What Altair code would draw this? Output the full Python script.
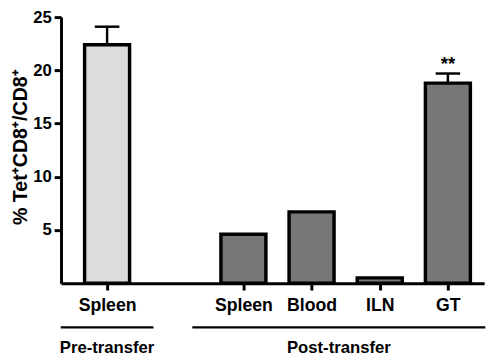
import altair as alt
import pandas as pd

# ---- data ----
categories = ["Spleen", "Spleen", "Blood", "ILN", "GT"]
slots = [0, 2, 3, 4, 5]
phase = ["Pre", "Post", "Post", "Post", "Post"]
values = [22.4, 4.6, 6.7, 0.5, 18.8]
err_upper = [24.1, None, None, None, 19.7]
significance = ["", "", "", "", "**"]

group_names = ["Pre-transfer", "Post-transfer"]
group_start = [-0.68, 1.25]
group_end = [0.68, 5.55]
group_center = [0.0, 3.4]

y_ticks = [5, 10, 15, 20, 25]

# ---- layout / style ----
W, H = 431, 271
HALF = 0.33
CAP = 0.18
FONT = "Liberation Sans"

df = pd.DataFrame(dict(cat=categories, slot=slots, phase=phase, value=values,
                       upper=err_upper, sig=significance))
gdf = pd.DataFrame(dict(name=group_names, start=group_start, end=group_end,
                        center=group_center))

label_arr = [""] * (max(slots) + 1)
for s, c in zip(slots, categories):
    label_arr[s] = c
label_expr = "[" + ",".join("'" + l + "'" for l in label_arr) + "][datum.value]"

xscale = alt.Scale(domain=[-0.676, 5.532], nice=False, zero=False)
yscale = alt.Scale(domain=[0, 25], nice=False)

x_axis = alt.Axis(values=slots, labelExpr=label_expr, title=None, grid=False,
                  tickSize=7, tickWidth=3, tickColor="black", domainWidth=3,
                  domainColor="black", labelFont=FONT, labelFontSize=18,
                  labelFontWeight="bold", labelColor="black", labelPadding=7,
                  labelFlush=False, labelOverlap=False)
y_axis = alt.Axis(values=y_ticks, title="% Tet\u207aCD8\u207a/CD8\u207a", grid=False,
                  tickSize=7, tickWidth=3, tickColor="black", domainWidth=3,
                  domainColor="black", labelFont=FONT, labelFontSize=17,
                  labelFontWeight="bold", labelColor="black", labelPadding=3,
                  labelFlush=False, titleFont=FONT, titleFontSize=20,
                  titleFontWeight="bold", titleColor="black", titleX=-41,
                  titleY=132, titleAngle=270, titleAlign="center",
                  titleBaseline="middle")

base = alt.Chart(df)

bars = base.transform_calculate(
    x1=f"datum.slot - {HALF}", x2=f"datum.slot + {HALF}", zero="0"
).mark_rect(stroke="black", strokeWidth=3.5).encode(
    x=alt.X("x1:Q", scale=xscale, axis=x_axis),
    x2="x2:Q",
    y=alt.Y("value:Q", scale=yscale, axis=y_axis),
    y2="zero:Q",
    color=alt.Color("phase:N", scale=alt.Scale(domain=["Pre", "Post"],
                    range=["#dcdcdc", "#777777"]), legend=None),
)

err = base.transform_filter("isValid(datum.upper)")
stems = err.mark_rule(color="black", strokeWidth=2.5).encode(
    x=alt.X("slot:Q", scale=xscale), y=alt.Y("value:Q", scale=yscale), y2="upper:Q")
caps = err.transform_calculate(
    c1=f"datum.slot - {CAP}", c2=f"datum.slot + {CAP}"
).mark_rule(color="black", strokeWidth=2.5).encode(
    x=alt.X("c1:Q", scale=xscale), x2="c2:Q", y=alt.Y("upper:Q", scale=yscale))
stars = err.mark_text(font=FONT, fontSize=19, fontWeight="bold", color="black",
                      dy=-4, baseline="alphabetic").encode(
    x=alt.X("slot:Q", scale=xscale), y=alt.Y("upper:Q", scale=yscale), text="sig:N")

glines = alt.Chart(gdf).mark_rule(color="black", strokeWidth=2.5).encode(
    x=alt.X("start:Q", scale=xscale), x2="end:Q", y=alt.value(H + 45))
gtext = alt.Chart(gdf).mark_text(font=FONT, fontSize=17, fontWeight="bold",
                                 color="black", baseline="middle").encode(
    x=alt.X("center:Q", scale=xscale), y=alt.value(H + 66), text="name:N")

chart = alt.layer(bars, stems, caps, stars, glines, gtext).properties(
    width=W, height=H,
    autosize=alt.AutoSizeParams(type="none"),
    padding={"left": 54, "top": 6, "right": 8, "bottom": 77},
    background="white",
).configure_view(stroke=None)

chart.save("out.html", embed_options={"renderer": "svg", "actions": False})
